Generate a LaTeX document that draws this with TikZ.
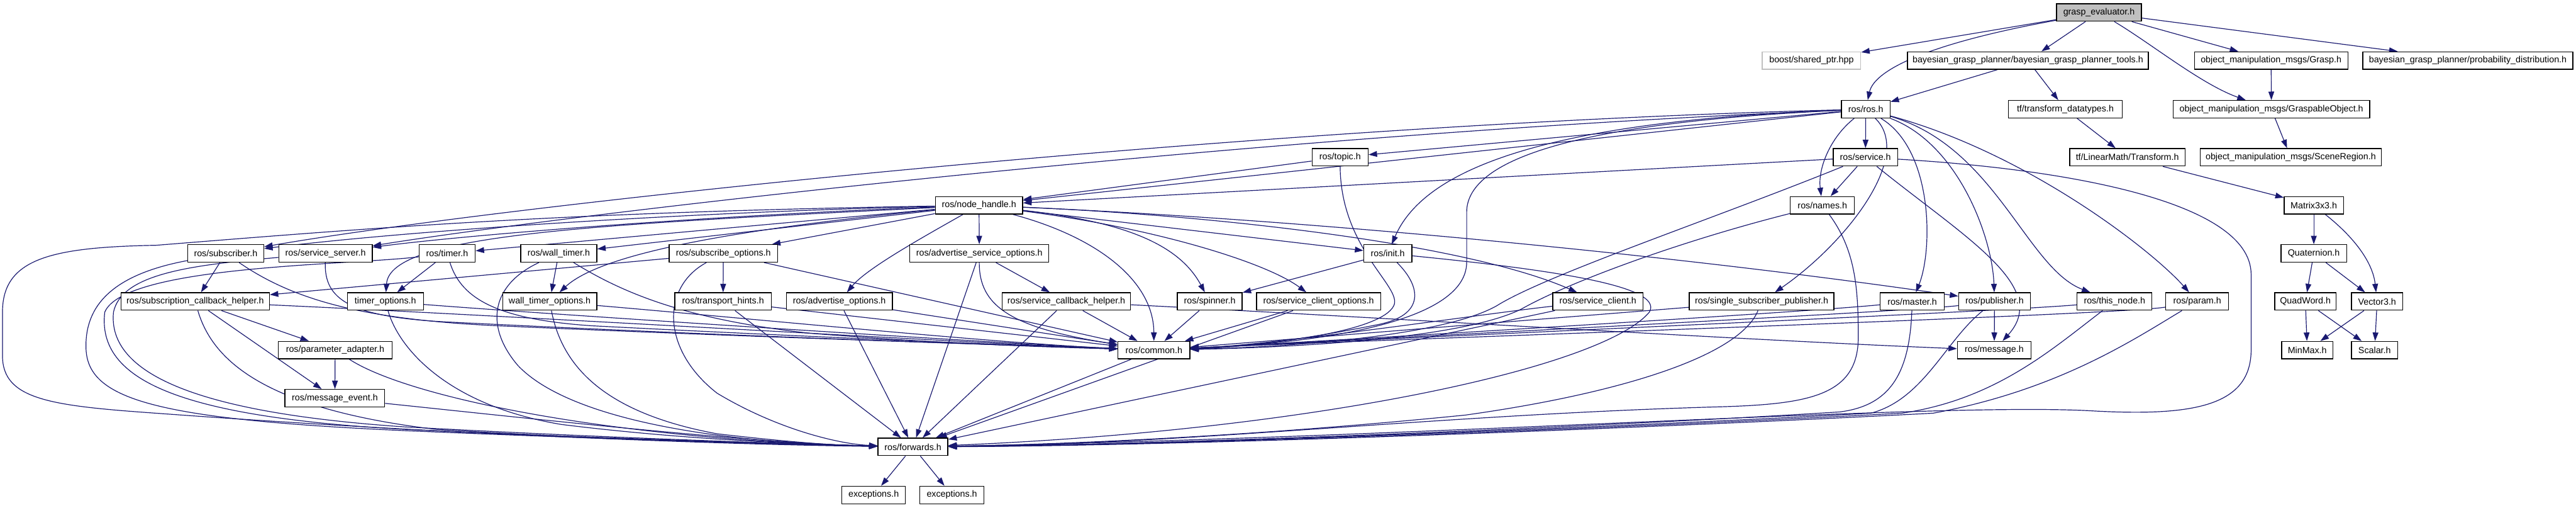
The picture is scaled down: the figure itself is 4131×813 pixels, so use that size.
\documentclass[tikz,border=0pt]{standalone}
\usepackage{fontspec}
\setmainfont{Liberation Sans}
\usetikzlibrary{arrows.meta}
\definecolor{edgecol}{HTML}{191970}
\definecolor{grayfill}{HTML}{BFBFBF}
\pgfdeclarelayer{bg}
\pgfsetlayers{bg,main}
\begin{document}
\begin{tikzpicture}[x=0.25pt,y=-0.25pt,
  box/.style={draw=black, line width=0.33pt, fill=white, rectangle, inner sep=0pt,
    minimum height=7pt, font=\fontsize{3.6pt}{4.3pt}\selectfont, text=black},
  bw/.style={minimum width=#1*0.25pt},
  edge/.style={draw=edgecol, line width=0.3pt, -{Triangle[length=3.4pt,width=2.3pt]}}]
\useasboundingbox (0,0) rectangle (4131,813);
% row 0
\node[box,bw=136,fill=grayfill] (ge) at (3366,20) {grasp\_evaluator.h};
% row 1
\node[box,bw=158,draw=grayfill] (boost) at (2905,97) {boost/shared\_ptr.hpp};
\node[box,bw=386] (bgpt) at (3252,97) {bayesian\_grasp\_planner/bayesian\_grasp\_planner\_tools.h};
\node[box,bw=246] (grasp) at (3642,97) {object\_manipulation\_msgs/Grasp.h};
\node[box,bw=337] (prob) at (3957.5,97) {bayesian\_grasp\_planner/probability\_distribution.h};
% row 2
\node[box,bw=78] (ros) at (2992,175) {ros/ros.h};
\node[box,bw=182] (tfd) at (3312,175) {tf/transform\_datatypes.h};
\node[box,bw=315] (gobj) at (3642.5,175) {object\_manipulation\_msgs/GraspableObject.h};
% row 3
\node[box,bw=90] (topic) at (2149,252) {ros/topic.h};
\node[box,bw=103] (service) at (2991.5,252) {ros/service.h};
\node[box,bw=185] (tfl) at (3411.5,252) {tf/LinearMath/Transform.h};
\node[box,bw=291] (scene) at (3673.5,252) {object\_manipulation\_msgs/SceneRegion.h};
% row 4
\node[box,bw=140] (nh) at (1570,329) {ros/node\_handle.h};
\node[box,bw=103] (names) at (2922.5,329) {ros/names.h};
\node[box,bw=95] (m33) at (3710.5,329) {Matrix3x3.h};
% row 5
\node[box,bw=122] (sub) at (362,406) {ros/subscriber.h};
\node[box,bw=150] (ss) at (522,406) {ros/service\_server.h};
\node[box,bw=90] (timer) at (717,406) {ros/timer.h};
\node[box,bw=122] (wt) at (896,406) {ros/wall\_timer.h};
\node[box,bw=174] (so) at (1160,406) {ros/subscribe\_options.h};
\node[box,bw=223] (aso) at (1570.5,406) {ros/advertise\_service\_options.h};
\node[box,bw=77] (init) at (2225.5,406) {ros/init.h};
\node[box,bw=105] (quat) at (3710.5,406) {Quaternion.h};
% row 6
\node[box,bw=238] (sch) at (313,483) {ros/subscription\_callback\_helper.h};
\node[box,bw=122] (tmo) at (618,483) {timer\_options.h};
\node[box,bw=151] (wto) at (881.5,483) {wall\_timer\_options.h};
\node[box,bw=155] (th) at (1159.5,483) {ros/transport\_hints.h};
\node[box,bw=170] (ao) at (1346,483) {ros/advertise\_options.h};
\node[box,bw=206] (scbh) at (1710,483) {ros/service\_callback\_helper.h};
\node[box,bw=104] (spin) at (1940,483) {ros/spinner.h};
\node[box,bw=199] (sco) at (2114.5,483) {ros/service\_client\_options.h};
\node[box,bw=145] (sc) at (2562.5,483) {ros/service\_client.h};
\node[box,bw=232] (ssp) at (2825,483) {ros/single\_subscriber\_publisher.h};
\node[box,bw=103] (master) at (3066.5,483) {ros/master.h};
\node[box,bw=115] (pub) at (3198.5,483) {ros/publisher.h};
\node[box,bw=120] (tn) at (3391,483) {ros/this\_node.h};
\node[box,bw=101] (param) at (3523.5,483) {ros/param.h};
\node[box,bw=98] (qw) at (3697,483) {QuadWord.h};
\node[box,bw=82] (v3) at (3812,483) {Vector3.h};
% row 7
\node[box,bw=183] (pa) at (537.5,561) {ros/parameter\_adapter.h};
\node[box,bw=115] (common) at (1850.5,561) {ros/common.h};
\node[box,bw=118] (msg) at (3198,561) {ros/message.h};
\node[box,bw=82] (minmax) at (3700,561) {MinMax.h};
\node[box,bw=74] (scalar) at (3808,561) {Scalar.h};
% row 8
\node[box,bw=160] (me) at (537,638) {ros/message\_event.h};
% row 9
\node[box,bw=112] (fwd) at (1464,716) {ros/forwards.h};
% row 10
\node[box,bw=102] (exc1) at (1401,793) {exceptions.h};
\node[box,bw=103] (exc2) at (1526.5,793) {exceptions.h};

\begin{pgfonlayer}{bg}
% top part
\draw[edge] (ge) -- (boost);
\draw[edge] (ge) .. controls (3080,72) and (3005,115) .. (ros);
\draw[edge] (ge) -- (bgpt);
\draw[edge] (ge) -- (grasp);
\draw[edge] (ge) .. controls (3450,70) and (3530,135) .. (gobj);
\draw[edge] (ge) -- (prob);
\draw[edge] (bgpt) -- (ros);
\draw[edge] (bgpt) -- (tfd);
\draw[edge] (grasp) -- (gobj);
\draw[edge] (gobj) -- (scene);
\draw[edge] (tfd) -- (tfl);
\draw[edge] (tfl) -- (m33);
\draw[edge] (m33) -- (quat);
\draw[edge] (m33) .. controls (3775,380) and (3805,420) .. (v3);
\draw[edge] (quat) -- (qw);
\draw[edge] (quat) -- (v3);
\draw[edge] (qw) -- (minmax);
\draw[edge] (qw) -- (scalar);
\draw[edge] (v3) -- (minmax);
\draw[edge] (v3) -- (scalar);
% ros.h
\draw[edge] (ros) -- (topic);
\draw[edge] (ros) -- (service);
\draw[edge] (ros) .. controls (2935,220) and (2915,270) .. (names);
\draw[edge] (ros) -- (nh);
\draw[edge] (ros) .. controls (2000,200) and (800,330) .. (sub);
\draw[edge] (ros) .. controls (2000,215) and (900,345) .. (ss);
\draw[edge] (ros) .. controls (2450,195) and (2280,280) .. (init);
\draw[edge] (ros) .. controls (2550,195) and (2352,250) .. (2352,340) -- (2352,420) .. controls (2352,520) and (2100,550) .. (common);
\draw[edge] (ros) .. controls (3070,250) and (2960,390) .. (ssp);
\draw[edge] (ros) .. controls (3100,240) and (3100,400) .. (master);
\draw[edge] (ros) .. controls (3140,230) and (3195,380) .. (pub);
\draw[edge] (ros) .. controls (3200,235) and (3250,430) .. (tn);
\draw[edge] (ros) .. controls (3250,245) and (3450,400) .. (param);
% service.h
\draw[edge] (service) -- (names);
\draw[edge] (service) -- (nh);
\draw[edge] (service) .. controls (2750,350) and (2480,440) .. (2400,490) .. controls (2320,535) and (2100,555) .. (common);
\draw[edge] (service) .. controls (3150,380) and (3290,460) .. (msg);
\draw[edge] (service) .. controls (3300,270) and (3610,320) .. (3610,440) -- (3610,560) .. controls (3610,650) and (3520,668) .. (3350,658) .. controls (3100,645) and (2300,700) .. (fwd);
% names.h
\draw[edge] (names) .. controls (2700,385) and (2520,450) .. (2440,495) .. controls (2350,540) and (2100,556) .. (common);
\draw[edge] (names) .. controls (2975,400) and (2980,460) .. (2980,540) .. controls (2980,635) and (2900,648) .. (2750,652) .. controls (2300,665) and (1900,712) .. (fwd);
% topic.h
\draw[edge] (topic) -- (nh);
\draw[edge] (topic) .. controls (2150,400) and (2250,460) .. (2235,490) .. controls (2215,530) and (2050,552) .. (common);
% node_handle.h
\draw[edge] (nh) .. controls (1100,340) and (650,370) .. (sub);
\draw[edge] (nh) .. controls (1150,345) and (760,375) .. (ss);
\draw[edge] (nh) -- (timer);
\draw[edge] (nh) -- (wt);
\draw[edge] (nh) -- (so);
\draw[edge] (nh) -- (aso);
\draw[edge] (nh) .. controls (950,360) and (625,375) .. (tmo);
\draw[edge] (nh) .. controls (1150,370) and (960,410) .. (wto);
\draw[edge] (nh) .. controls (1480,380) and (1390,430) .. (ao);
\draw[edge] (nh) -- (init);
\draw[edge] (nh) .. controls (1800,355) and (1890,390) .. (spin);
\draw[edge] (nh) .. controls (1850,365) and (2030,420) .. (sco);
\draw[edge] (nh) .. controls (1950,345) and (2350,390) .. (sc);
\draw[edge] (nh) .. controls (2100,352) and (2700,410) .. (pub);
\draw[edge] (nh) .. controls (1760,380) and (1850,450) .. (common);
\draw[edge] (nh) .. controls (900,340) and (600,365) .. (250,393) .. controls (80,396) and (4,415) .. (4,500) -- (4,570) .. controls (4,640) and (80,650) .. (250,662) .. controls (700,695) and (1150,712) .. (fwd);
% subscriber.h
\draw[edge] (sub) -- (sch);
\draw[edge] (sub) .. controls (470,480) and (580,512) .. (800,522) .. controls (1200,540) and (1600,552) .. (common);
\draw[edge] (sub) .. controls (180,440) and (135,490) .. (138,560) .. controls (142,640) and (250,672) .. (650,690) .. controls (1000,705) and (1300,713) .. (fwd);
% service_server.h
\draw[edge] (ss) .. controls (520,480) and (560,508) .. (720,516) .. controls (1200,540) and (1600,552) .. (common);
\draw[edge] (ss) .. controls (300,425) and (195,440) .. (182,500) .. controls (172,600) and (320,662) .. (650,684) .. controls (1000,703) and (1300,712) .. (fwd);
% timer.h
\draw[edge] (timer) -- (tmo);
\draw[edge] (timer) .. controls (740,480) and (800,512) .. (950,522) .. controls (1300,540) and (1600,552) .. (common);
\draw[edge] (timer) .. controls (560,425) and (200,425) .. (168,500) .. controls (155,610) and (290,668) .. (650,688) .. controls (1000,704) and (1300,712) .. (fwd);
% wall_timer.h
\draw[edge] (wt) -- (wto);
\draw[edge] (wt) .. controls (1000,470) and (1100,512) .. (1300,534) .. controls (1500,550) and (1650,555) .. (common);
\draw[edge] (wt) .. controls (790,455) and (775,520) .. (830,585) .. controls (900,660) and (1100,708) .. (fwd);
% timer_options.h
\draw[edge] (tmo) .. controls (900,505) and (1600,550) .. (common);
\draw[edge] (tmo) .. controls (640,560) and (720,650) .. (900,680) .. controls (1100,705) and (1300,712) .. (fwd);
% wall_timer_options.h
\draw[edge] (wto) .. controls (1200,510) and (1600,550) .. (common);
\draw[edge] (wto) .. controls (900,580) and (960,660) .. (1150,695) .. controls (1280,710) and (1350,714) .. (fwd);
% subscribe_options.h
\draw[edge] (so) -- (sch);
\draw[edge] (so) -- (th);
\draw[edge] (so) -- (common);
\draw[edge] (so) .. controls (1060,460) and (1060,560) .. (1150,630) .. controls (1250,690) and (1350,712) .. (fwd);
% transport_hints.h
\draw[edge] (th) -- (common);
\draw[edge] (th) -- (fwd);
% advertise_options.h
\draw[edge] (ao) -- (common);
\draw[edge] (ao) -- (fwd);
% advertise_service_options.h
\draw[edge] (aso) -- (scbh);
\draw[edge] (aso) -- (fwd);
\draw[edge] (aso) .. controls (1570,490) and (1620,525) .. (common);
% service_callback_helper.h
\draw[edge] (scbh) -- (common);
\draw[edge] (scbh) -- (fwd);
\draw[edge] (scbh) .. controls (2200,508) and (2800,545) .. (msg);
% spinner.h
\draw[edge] (spin) -- (common);
% init.h
\draw[edge] (init) -- (spin);
\draw[edge] (init) .. controls (2280,460) and (2285,505) .. (2210,520) .. controls (2100,542) and (2000,556) .. (common);
\draw[edge] (init) .. controls (2550,438) and (2665,465) .. (2645,500) .. controls (2570,590) and (2100,690) .. (fwd);
% service_client_options.h
\draw[edge] (sco) -- (common);
\draw[edge] (sco) -- (fwd);
% service_client.h
\draw[edge] (sc) .. controls (2400,500) and (2050,552) .. (common);
\draw[edge] (sc) -- (fwd);
% single_subscriber_publisher.h
\draw[edge] (ssp) -- (common);
\draw[edge] (ssp) .. controls (2790,570) and (2600,630) .. (2350,665) .. controls (2000,700) and (1700,712) .. (fwd);
% master.h
\draw[edge] (master) .. controls (2900,500) and (2100,548) .. (common);
\draw[edge] (master) .. controls (3062,600) and (3030,650) .. (2950,660) .. controls (2600,682) and (1900,712) .. (fwd);
% publisher.h
\draw[edge] (pub) -- (msg);
\draw[edge] (pub) .. controls (3050,500) and (2100,548) .. (common);
\draw[edge] (pub) .. controls (3120,545) and (3085,640) .. (3000,662) .. controls (2600,684) and (1900,712) .. (fwd);
% this_node.h
\draw[edge] (tn) .. controls (3200,500) and (2100,548) .. (common);
\draw[edge] (tn) .. controls (3290,560) and (3200,640) .. (3050,662) .. controls (2600,686) and (1900,713) .. (fwd);
% param.h
\draw[edge] (param) .. controls (3400,505) and (2100,548) .. (common);
\draw[edge] (param) .. controls (3420,545) and (3300,625) .. (3100,662) .. controls (2600,688) and (1900,714) .. (fwd);
% subscription_callback_helper.h
\draw[edge] (sch) -- (pa);
\draw[edge] (sch) -- (me);
\draw[edge] (sch) .. controls (800,505) and (1600,552) .. (common);
\draw[edge] (sch) .. controls (340,575) and (420,655) .. (700,688) .. controls (1000,706) and (1300,713) .. (fwd);
% parameter_adapter.h
\draw[edge] (pa) -- (me);
\draw[edge] (pa) .. controls (660,640) and (1000,705) .. (fwd);
% message_event.h
\draw[edge] (me) .. controls (800,665) and (1200,710) .. (fwd);
% common / forwards
\draw[edge] (common) -- (fwd);
\draw[edge] (fwd) -- (exc1);
\draw[edge] (fwd) -- (exc2);
\end{pgfonlayer}
\end{tikzpicture}
\end{document}
